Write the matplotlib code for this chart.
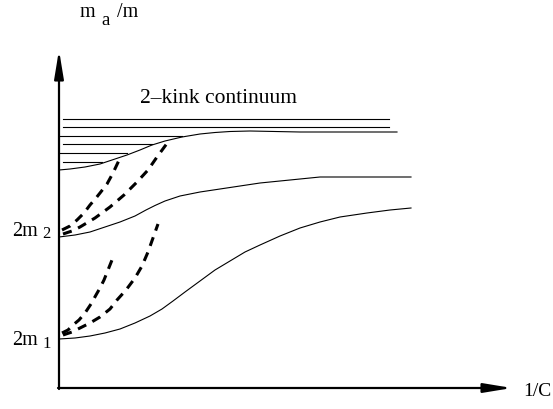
import numpy as np
import matplotlib.pyplot as plt

# schematic drawn in picture units (x to the right, y downwards)

# continuum levels
cont_y = [119, 127, 136, 144, 153, 162]
cont_x0 = [63, 63, 59, 63, 59, 63]
cont_x1 = [389, 389, 182, 152, 127, 102]

# solid branches
top_x = [59, 70, 85, 100, 115, 127, 140, 152, 165, 182, 200, 215, 230, 250, 300, 397]
top_y = [170, 169, 167, 164, 159, 155, 150, 145, 141, 137, 134, 132.5, 131.5, 131, 132, 132]

mid_x = [59, 75, 90, 105, 120, 135, 146, 155, 165, 180, 200, 220, 240, 260, 280, 300, 320, 411]
mid_y = [237, 235, 232, 227, 222, 216, 210, 205.5, 201, 196, 192, 189, 186, 183, 181, 179, 177, 177]

low_x = [59, 75, 90, 105, 120, 135, 150, 162, 173, 185, 200, 215, 230, 245, 260, 280,
         300, 320, 340, 367, 390, 411]
low_y = [339, 338, 336, 333, 329, 323, 316, 309, 301, 292, 281, 270, 261, 252, 245, 236,
         228, 222, 217, 213, 210, 208]

# dashed branches
d1_x = [62, 70, 77, 84, 90, 96, 100, 107, 113, 121]
d1_y = [230, 226, 220, 213, 205, 198, 193, 184, 173, 156]
d2_x = [63, 72, 80, 95, 110, 124, 137, 148, 157, 168]
d2_y = [234, 231, 227, 218, 207, 195, 182, 170, 157, 142]
d3_x = [62, 68, 73, 79, 85, 91, 96, 100, 104, 112]
d3_y = [333, 330, 325, 320, 313, 304, 295, 288, 280, 260]
d4_x = [63, 72, 80, 90, 100, 110, 117, 126, 135, 142, 148, 158]
d4_y = [335, 332, 328, 323, 317, 309, 300, 290, 278, 266, 252, 224]

fig = plt.figure(figsize=(5.53, 4.09), dpi=100)
ax = fig.add_axes([0, 0, 1, 1])
ax.set_xlim(0, 553)
ax.set_ylim(409, 0)
ax.axis('off')

serif = 'Liberation Serif'

# axes with arrows
ax.annotate('', xy=(59, 50), xytext=(59, 389),
            arrowprops=dict(arrowstyle='-|>,head_length=1.7,head_width=0.28',
                            lw=1.6, color='black', shrinkA=0, shrinkB=0))
ax.annotate('', xy=(512, 388), xytext=(58, 388),
            arrowprops=dict(arrowstyle='-|>,head_length=1.7,head_width=0.28',
                            lw=1.6, color='black', shrinkA=0, shrinkB=0))

for y, x0, x1 in zip(cont_y, cont_x0, cont_x1):
    ax.plot([x0, x1], [y, y], color='black', lw=0.8)

for xs, ys in [(top_x, top_y), (mid_x, mid_y), (low_x, low_y)]:
    ax.plot(xs, ys, color='black', lw=0.8)

for xs, ys in [(d1_x, d1_y), (d2_x, d2_y), (d3_x, d3_y), (d4_x, d4_y)]:
    ax.plot(xs, ys, color='black', lw=2.2, dashes=(3.0, 2.3))

ax.text(140, 103, '2\u2013kink continuum', family=serif, fontsize=15.5,
        ha='left', va='baseline')
ax.text(80, 17, 'm', family=serif, fontsize=14.5, ha='left', va='baseline')
ax.text(101, 25, 'a', family=serif, fontsize=13.5, ha='left', va='baseline')
ax.text(117, 17, '/m', family=serif, fontsize=14.5, ha='left', va='baseline')
ax.text(523, 396, '1/C', family=serif, fontsize=14, ha='left', va='baseline')

ax.text(12, 236, '2m', family=serif, fontsize=14.5, ha='left', va='baseline')
ax.text(42, 238, '2', family=serif, fontsize=12, ha='left', va='baseline')
ax.text(12, 345, '2m', family=serif, fontsize=14.5, ha='left', va='baseline')
ax.text(42, 348, '1', family=serif, fontsize=12, ha='left', va='baseline')

fig.savefig('out.png', dpi=100)
